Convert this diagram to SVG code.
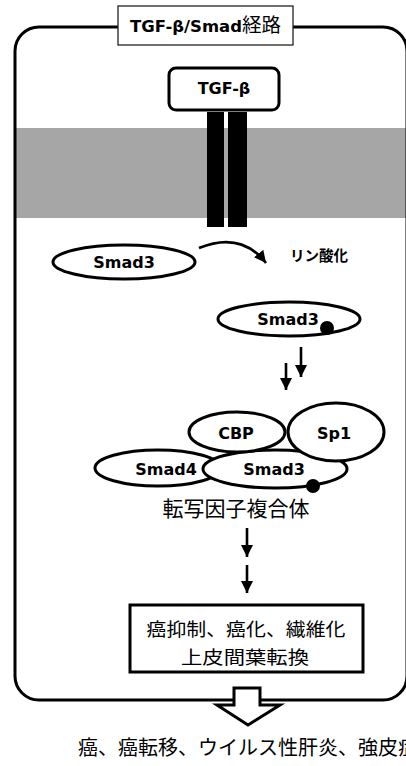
<svg xmlns="http://www.w3.org/2000/svg" width="406" height="766" viewBox="0 0 406 766">
<style>
.lat{font-family:"DejaVu Sans","Liberation Sans",sans-serif;font-weight:bold;font-size:16px;fill:#000;text-anchor:middle}
.jp{font-family:"Noto Sans CJK JP","Noto Sans",sans-serif;fill:#000}
.ell{fill:#fff;stroke:#000;stroke-width:3}
.arr{stroke:#000;stroke-width:2.6;fill:none}
</style>
<defs>
<marker id="ah" markerUnits="userSpaceOnUse" markerWidth="12" markerHeight="12" viewBox="0 0 10 10" refX="10" refY="5" orient="auto">
<path d="M0,0 L10,5 L0,10 z" fill="#000"/>
</marker>
</defs>
<rect width="406" height="766" fill="#fff"/>
<g id="membrane">
<rect x="16" y="128" width="390" height="90" fill="#a6a6a6"/>
</g>
<g id="frame">
<rect x="15" y="27" width="392" height="673" rx="24" ry="24" fill="none" stroke="#000" stroke-width="3"/>
</g>
<g id="title">
<rect x="118" y="6" width="175" height="39" fill="#fff" stroke="#222" stroke-width="1.3"/>
<text class="lat" x="205.5" y="32" textLength="151" lengthAdjust="spacingAndGlyphs">TGF-β/Smad<tspan class="jp" font-weight="normal" font-size="19">経路</tspan></text>
</g>
<g id="receptor">
<rect x="207" y="112" width="17" height="115" fill="#000"/>
<rect x="228" y="112" width="19" height="115" fill="#000"/>
</g>
<g id="tgfb">
<rect x="169" y="68" width="110" height="42" rx="7" ry="7" fill="#fff" stroke="#000" stroke-width="3"/>
<text class="lat" x="224" y="94">TGF-β</text>
</g>
<g id="smad3a">
<ellipse class="ell" cx="124" cy="262" rx="71" ry="17"/>
<text class="lat" x="124" y="268">Smad3</text>
</g>
<g id="phos-label">
<text class="jp" x="290" y="261" font-size="14.5" font-weight="bold">リン酸化</text>
</g>
<g id="smad3p">
<ellipse class="ell" cx="289" cy="319" rx="71" ry="17"/>
<text class="lat" x="288" y="325">Smad3</text>
<circle cx="327" cy="328" r="7" fill="#000"/>
</g>
<g id="complex">
<ellipse class="ell" cx="158" cy="468" rx="63" ry="18"/>
<ellipse class="ell" cx="275" cy="469" rx="72" ry="19"/>
<ellipse class="ell" cx="237" cy="432" rx="48" ry="20"/>
<ellipse class="ell" cx="336" cy="432" rx="48" ry="29"/>
<text class="lat" x="236" y="439">CBP</text>
<text class="lat" x="334" y="439">Sp1</text>
<text class="lat" x="166" y="475">Smad4</text>
<text class="lat" x="274" y="475">Smad3</text>
<circle cx="313" cy="486" r="7" fill="#000"/>
</g>
<g id="complex-label">
<text class="jp" x="236" y="516" font-size="21" text-anchor="middle">転写因子複合体</text>
</g>
<g id="outcome">
<rect x="130" y="605" width="233" height="67" fill="#fff" stroke="#000" stroke-width="3"/>
<text class="jp" x="246" y="636" font-size="18.5" text-anchor="middle" textLength="199" lengthAdjust="spacingAndGlyphs">癌抑制、癌化、繊維化</text>
<text class="jp" x="245" y="664" font-size="18.5" text-anchor="middle" textLength="128" lengthAdjust="spacingAndGlyphs">上皮間葉転換</text>
</g>
<g id="connectors">
<path class="arr" d="M199,248 Q241,231 266,263" marker-end="url(#ah)" stroke-width="3"/>
<line class="arr" x1="301" y1="347" x2="301" y2="377" marker-end="url(#ah)"/>
<line class="arr" x1="286" y1="363" x2="286" y2="390" marker-end="url(#ah)"/>
<line class="arr" x1="247" y1="528" x2="247" y2="557" marker-end="url(#ah)"/>
<line class="arr" x1="247" y1="565" x2="247" y2="593" marker-end="url(#ah)"/>
<polygon points="234,688 260,688 260,705 280,705 248,725 217,705 234,705" fill="#fff" stroke="#000" stroke-width="3" stroke-linejoin="miter"/>
</g>
<g id="diseases">
<text class="jp" x="78" y="755" font-size="20">癌、癌転移、ウイルス性肝炎、強皮症</text>
</g>
</svg>
